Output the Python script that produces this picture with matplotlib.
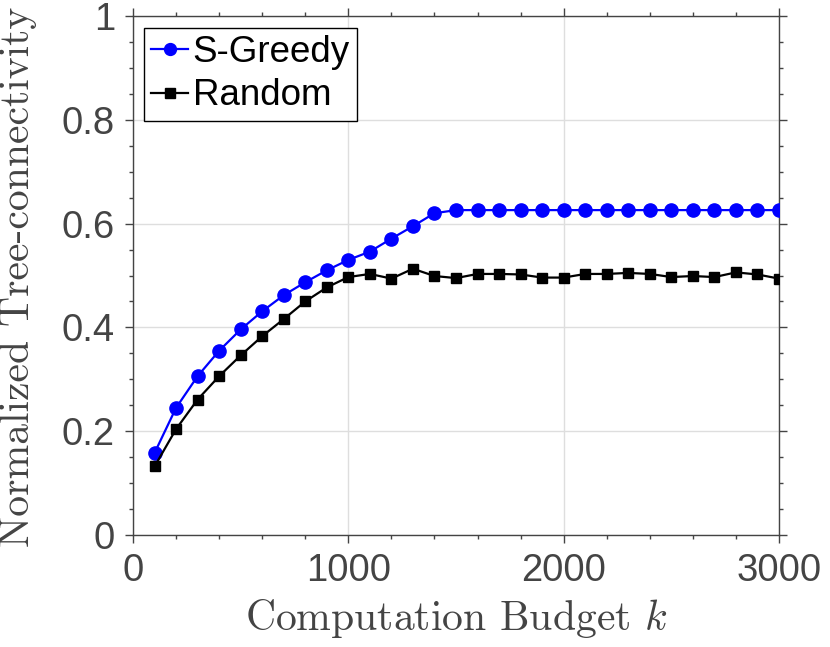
import matplotlib
matplotlib.use("Agg")
import matplotlib.pyplot as plt
from matplotlib.ticker import MultipleLocator

plt.rcParams['mathtext.fontset'] = 'cm'
plt.rcParams['axes.formatter.use_mathtext'] = True

k = [100, 200, 300, 400, 500, 600, 700, 800, 900, 1000,
     1100, 1200, 1300, 1400, 1500, 1600, 1700, 1800, 1900, 2000,
     2100, 2200, 2300, 2400, 2500, 2600, 2700, 2800, 2900, 3000]

s_greedy = [0.158, 0.245, 0.306, 0.355, 0.396, 0.431, 0.462, 0.487, 0.510, 0.530,
            0.546, 0.571, 0.595, 0.620, 0.626, 0.626, 0.626, 0.626, 0.626, 0.626,
            0.626, 0.626, 0.626, 0.626, 0.626, 0.626, 0.626, 0.626, 0.626, 0.626]

random_sel = [0.132, 0.204, 0.261, 0.306, 0.346, 0.383, 0.416, 0.450, 0.477, 0.497,
              0.503, 0.494, 0.513, 0.499, 0.495, 0.503, 0.503, 0.502, 0.496, 0.496,
              0.503, 0.503, 0.505, 0.503, 0.497, 0.499, 0.497, 0.506, 0.502, 0.494]

xticks = [0, 1000, 2000, 3000]
xticklabels = ['0', '1000', '2000', '3000']
yticks = [0, 0.2, 0.4, 0.6, 0.8, 1]
yticklabels = ['0', '0.2', '0.4', '0.6', '0.8', '1']

gray = '#444444'
sans = ['Liberation Sans', 'DejaVu Sans']

fig = plt.figure(figsize=(8.3, 6.47), dpi=100)
ax = fig.add_axes([133 / 830, 112 / 647, 646 / 830, 519 / 647])

ax.plot(k, s_greedy, '-o', color='#0000ff', lw=1.6, ms=9.5, label='S-Greedy', zorder=3)
ax.plot(k, random_sel, '-s', color='black', lw=1.6, ms=7.8, label='Random', zorder=3)

ax.set_xlim(0, 3000)
ax.set_ylim(0, 1)
ax.set_xticks(xticks)
ax.set_xticklabels(xticklabels)
ax.set_yticks(yticks)
ax.set_yticklabels(yticklabels)
ax.xaxis.set_minor_locator(MultipleLocator(200))
ax.yaxis.set_minor_locator(MultipleLocator(0.05))

ax.grid(True, which='major', color='#dedede', lw=1)
ax.set_axisbelow(True)

for sp in ax.spines.values():
    sp.set_color(gray)
    sp.set_linewidth(1)

ax.tick_params(which='both', direction='out', top=True, right=True, color=gray, width=1)
ax.tick_params(which='major', length=5.5, pad=7.5, labelsize=27.5, labelcolor=gray)
ax.tick_params(which='minor', length=3)
for lab in ax.get_xticklabels() + ax.get_yticklabels():
    lab.set_family(sans)

ax.set_xlabel(r'Computation Budget $k$', family='cmr10', fontsize=30, color=gray)
ax.set_ylabel('Normalized Tree-connectivity', family='cmr10', fontsize=30, color=gray)
ax.xaxis.set_label_coords(0.5, -0.12)
ax.yaxis.set_label_coords(-0.148, 0.497)

leg = ax.legend(loc='upper left', bbox_to_anchor=(0.017, 0.977), borderaxespad=0,
                prop={'family': sans, 'size': 26.5}, frameon=True, fancybox=False,
                edgecolor='black', framealpha=1, handlelength=1.0, handletextpad=0.12,
                borderpad=0.2, labelspacing=0.22, markerscale=0.9)
leg.get_frame().set_linewidth(1)

fig.savefig('out.png', dpi=100)
